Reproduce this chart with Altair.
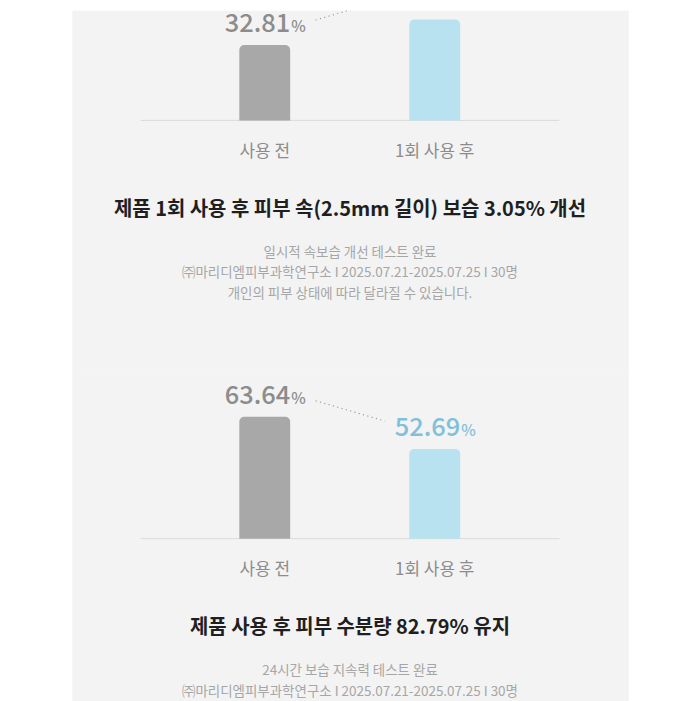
import altair as alt
import pandas as pd

# ---- data ----
categories = ["사용 전", "1회 사용 후"]
top_values = [32.81, 33.81]
bottom_values = [63.64, 52.69]
top_title = "제품 1회 사용 후 피부 속(2.5mm 길이) 보습 3.05% 개선"
top_notes = [
    "일시적 속보습 개선 테스트 완료",
    "㈜마리디엠피부과학연구소 I 2025.07.21-2025.07.25 I 30명",
    "개인의 피부 상태에 따라 달라질 수 있습니다.",
]
bottom_title = "제품 사용 후 피부 수분량 82.79% 유지"
bottom_notes = [
    "24시간 보습 지속력 테스트 완료",
    "㈜마리디엠피부과학연구소 I 2025.07.21-2025.07.25 I 30명",
    "개인의 피부 상태에 따라 달라질 수 있습니다.",
]
# value axis extents of each infographic (floor at the baseline)
top_domain = [29.83, 34.18]
bottom_domain = [22.18, 59.64]

# ---- style ----
FONT = "Noto Sans CJK KR"
BAR_COLORS = ["#a8a8a8", "#b8e2ef"]
LABEL_COLORS = ["#8c8c8c", "#80c0d8"]
W = 558
BASE = 110.5


def panel(values, domain, title, notes, off, height):
    df = pd.DataFrame({
        "cat": categories,
        "value": values,
        "floor": [domain[0]] * len(values),
        "num": [f"{v:.2f}" for v in values],
        "pct": ["%"] * len(values),
    })
    xs = alt.Scale(type="point", domain=categories, range=[193.5, 364], padding=0)
    ys = alt.Scale(domain=domain, range=[BASE + off, off], nice=False, zero=False)
    x = alt.X("cat:N", scale=xs, axis=None)
    y = alt.Y("value:Q", scale=ys, axis=None)
    base = alt.Chart(df).encode(x=x)

    bars = base.mark_bar(width=51, cornerRadiusTopLeft=5, cornerRadiusTopRight=5).encode(
        y=y, y2="floor:Q",
        color=alt.Color("cat:N", scale=alt.Scale(domain=categories, range=BAR_COLORS), legend=None),
    )
    tcol = alt.Color("cat:N", scale=alt.Scale(domain=categories, range=LABEL_COLORS), legend=None)
    nums = base.mark_text(align="right", baseline="alphabetic", dx=25.5, dy=-13, fontSize=25.5,
                          fontWeight=500, font=FONT, clip=True).encode(y=y, text="num:N", color=tcol)
    pcts = base.mark_text(align="left", baseline="alphabetic", dx=26.5, dy=-13, fontSize=15.5,
                          fontWeight=500, font=FONT, clip=True).encode(y=y, text="pct:N", color=tcol)

    down = values[1] < values[0]
    conn = pd.DataFrame({"c1": [categories[0]], "c2": [categories[1]], "v1": [values[0]], "v2": [values[1]]})
    dots = alt.Chart(conn).mark_rule(
        strokeDash=[1.2, 3.3], color="#9a9a9a", strokeWidth=1.1, clip=True,
        xOffset=51, x2Offset=-50,
        yOffset=-16 if down else -25, y2Offset=-28 if down else -20,
    ).encode(
        x=alt.X("c1:N", scale=xs, axis=None), x2="c2:N",
        y=alt.Y("v1:Q", scale=ys, axis=None), y2="v2:Q",
    )

    one = pd.DataFrame({"t": [title]})
    baseline = alt.Chart(one).mark_rule(color="#dadada", strokeWidth=1).encode(
        x=alt.value(69), x2=alt.value(489), y=alt.value(BASE + off))
    cats = base.mark_text(baseline="middle", fontSize=17, color="#8c8c8c", font=FONT).encode(
        text="cat:N", y=alt.value(142 + off))
    ttl = alt.Chart(one).mark_text(baseline="middle", fontSize=20, fontWeight="bold",
                                   color="#1f1f1f", font=FONT).encode(
        text="t:N", x=alt.value(W / 2), y=alt.value(200 + off))
    layers = [baseline, bars, dots, nums, pcts, cats, ttl]
    for i, line in enumerate(notes):
        layers.append(
            alt.Chart(pd.DataFrame({"t": [line]})).mark_text(
                baseline="middle", fontSize=13.5, color="#a6a6a6", font=FONT).encode(
                text="t:N", x=alt.value(W / 2), y=alt.value(243 + off + 21 * i))
        )
    return alt.layer(*layers).resolve_scale(color="independent").properties(width=W, height=height)


top = panel(top_values, top_domain, top_title, top_notes, 0, 360)
bottom = panel(bottom_values, bottom_domain, bottom_title, bottom_notes, 59.5, 480)

chart = alt.vconcat(top, bottom, spacing=0, bounds="flush").properties(
    padding={"left": 63, "right": 63, "top": 0, "bottom": 0},
    background="white",
).configure_view(fill="#f3f3f3", stroke="transparent")

chart.save("out.html", embed_options={"renderer": "svg", "actions": False})
